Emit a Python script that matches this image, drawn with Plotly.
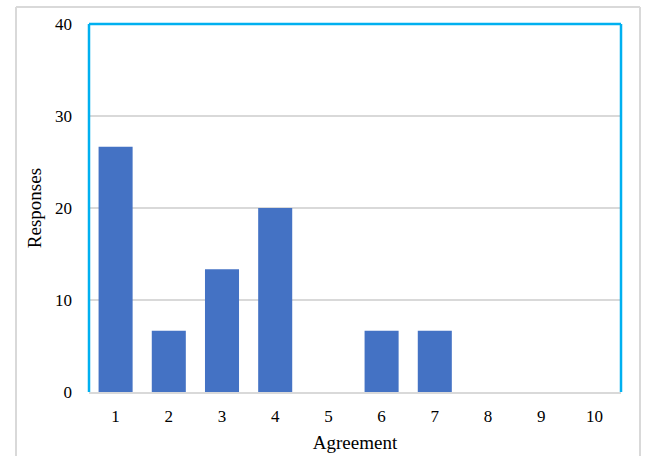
import plotly.graph_objects as go

# Survey results: agreement score vs. share of responses
agreement = [1, 2, 3, 4, 5, 6, 7, 8, 9, 10]
responses = [26.67, 6.67, 13.33, 20.0, 0, 6.67, 6.67, 0, 0, 0]
y_ticks = [0, 10, 20, 30, 40]

W, H = 648, 456
L, R, T, B = 89, 621, 24, 392  # plot area in pixels

BAR = "#4472C4"
FRAME = "#00B0F0"
GRID = "#D9D9D9"
SERIF = "Liberation Serif, Times New Roman, serif"

fig = go.Figure(
    go.Bar(
        x=[str(a) for a in agreement],
        y=responses,
        marker=dict(color=BAR, line=dict(width=0)),
    )
)

def px_x(p):
    return (p - L) / (R - L)

def px_y(p):
    return (B - p) / (B - T)

shapes = [
    # outer chart frame (open at the bottom)
    dict(type="line", xref="paper", yref="paper",
         x0=px_x(16), x1=px_x(16), y0=px_y(7), y1=px_y(470),
         line=dict(color="#D9D9D9", width=2)),
    dict(type="line", xref="paper", yref="paper",
         x0=px_x(16), x1=px_x(640), y0=px_y(7), y1=px_y(7),
         line=dict(color="#D9D9D9", width=2)),
    dict(type="line", xref="paper", yref="paper",
         x0=px_x(640), x1=px_x(640), y0=px_y(7), y1=px_y(470),
         line=dict(color="#D9D9D9", width=2)),
    # plot area border: left, top, right
    dict(type="line", xref="paper", yref="paper", x0=0, x1=0, y0=0, y1=1,
         line=dict(color=FRAME, width=2.5)),
    dict(type="line", xref="paper", yref="paper", x0=0, x1=1, y0=1, y1=1,
         line=dict(color=FRAME, width=2.5)),
    dict(type="line", xref="paper", yref="paper", x0=1, x1=1, y0=0, y1=1,
         line=dict(color=FRAME, width=2.5)),
]

fig.update_layout(
    width=W, height=H,
    margin=dict(l=L, r=W - R, t=T, b=H - B, autoexpand=False),
    paper_bgcolor="white",
    plot_bgcolor="white",
    bargap=0.36,
    showlegend=False,
    font=dict(family=SERIF, size=17, color="#000000"),
    shapes=shapes,
    xaxis=dict(
        type="category", automargin=False,
        showline=True, linecolor=GRID, linewidth=2,
        showgrid=False, ticks="", ticklabelstandoff=8,
        tickfont=dict(family=SERIF, size=17),
        title=dict(text="Agreement", font=dict(family=SERIF, size=19), standoff=10),
    ),
    yaxis=dict(
        range=[0, 40], tickvals=y_ticks, automargin=False,
        showline=False, zeroline=False,
        showgrid=True, gridcolor=GRID, gridwidth=1.5,
        ticks="", ticklabelstandoff=16,
        tickfont=dict(family=SERIF, size=17),
        title=dict(text="Responses", font=dict(family=SERIF, size=19), standoff=8),
    ),
)

fig.write_html("out.html")
